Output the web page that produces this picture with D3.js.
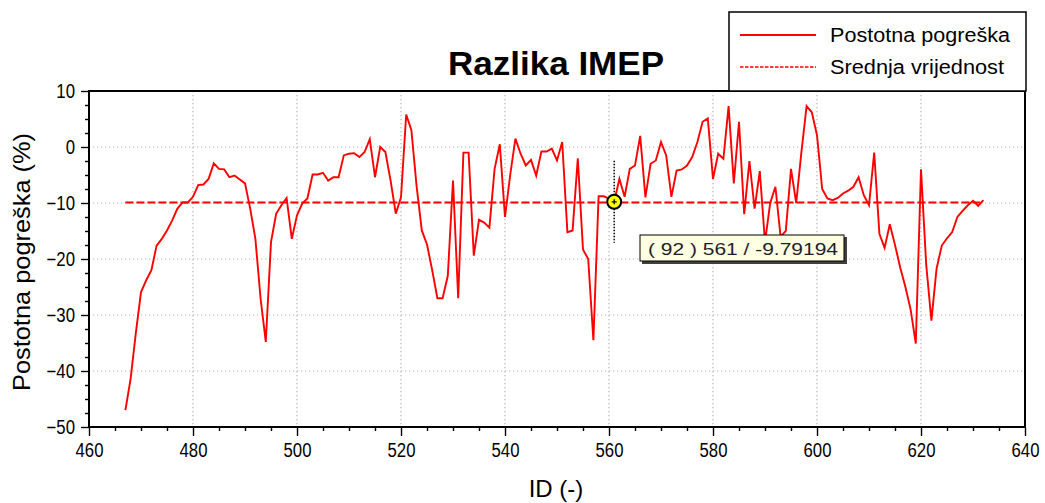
<!DOCTYPE html>
<html>
<head>
<meta charset="utf-8">
<script src="https://cdn.jsdelivr.net/npm/d3@7"></script>
<style>
  html, body { margin: 0; padding: 0; background: #ffffff; }
  svg { display: block; font-family: "Liberation Sans", Arial, Helvetica, sans-serif; }
</style>
</head>
<body>
<svg id="chart" width="1045" height="503"></svg>
<script>
// Measurement IDs (x) and percentage error of IMEP (y)
const ids = [
  467, 468, 469, 470, 471, 472, 473, 474, 475, 476, 477, 478, 479, 480, 481, 482, 483, 484, 485, 486,
  487, 488, 489, 490, 491, 492, 493, 494, 495, 496, 497, 498, 499, 500, 501, 502, 503, 504, 505, 506,
  507, 508, 509, 510, 511, 512, 513, 514, 515, 516, 517, 518, 519, 520, 521, 522, 523, 524, 525, 526,
  527, 528, 529, 530, 531, 532, 533, 534, 535, 536, 537, 538, 539, 540, 541, 542, 543, 544, 545, 546,
  547, 548, 549, 550, 551, 552, 553, 554, 555, 556, 557, 558, 559, 560, 561, 562, 563, 564, 565, 566,
  567, 568, 569, 570, 571, 572, 573, 574, 575, 576, 577, 578, 579, 580, 581, 582, 583, 584, 585, 586,
  587, 588, 589, 590, 591, 592, 593, 594, 595, 596, 597, 598, 599, 600, 601, 602, 603, 604, 605, 606,
  607, 608, 609, 610, 611, 612, 613, 614, 615, 616, 617, 618, 619, 620, 621, 622, 623, 624, 625, 626,
  627, 628, 629, 630, 631, 632
];
const errorPct = [
  -47.0, -41.4, -33.3, -25.9, -23.8, -22.0, -17.6, -16.4, -14.9, -13.1, -11.0, -9.9, -9.9, -8.9, -6.8, -6.7, -5.7, -2.9, -3.9, -4.0,
  -5.4, -5.1, -5.8, -6.5, -11.0, -16.4, -27.1, -34.8, -17.0, -11.9, -10.4, -9.1, -16.4, -12.2, -10.1, -9.2, -4.9, -4.9, -4.6, -6.0,
  -5.4, -5.4, -1.5, -1.2, -1.1, -1.8, -0.9, 1.4, -5.4, 0.0, -0.9, -6.0, -11.9, -9.0, 5.8, 3.0, -7.0, -14.9, -17.4, -22.0,
  -27.0, -27.0, -23.0, -6.0, -27.0, -1.0, -1.0, -19.4, -13.0, -13.5, -14.4, -3.9, 0.5, -12.5, -5.0, 1.5, -1.2, -3.3, -2.3, -5.1,
  -0.8, -0.8, -0.3, -2.4, 0.9, -15.2, -14.9, -2.0, -18.3, -20.0, -34.5, -8.8, -8.8, -9.2, -9.79194, -5.7, -8.9, -3.9, -3.3, 2.0,
  -9.0, -3.0, -2.4, 0.9, -1.5, -8.9, -4.2, -4.0, -3.3, -1.8, 0.9, 4.5, 5.1, -5.7, -1.2, -2.1, 7.3, -6.5, 4.5, -12.0,
  -2.5, -11.0, -4.3, -17.0, -10.0, -7.1, -16.0, -15.0, -3.9, -10.0, -0.9, 7.3, 6.2, 2.1, -7.5, -9.2, -9.5, -9.1, -8.3, -7.8,
  -7.1, -5.4, -8.6, -10.4, -1.0, -15.5, -18.0, -13.8, -17.5, -21.5, -25.0, -29.0, -35.1, -4.0, -21.0, -31.0, -21.7, -17.6, -16.3, -15.2,
  -12.5, -11.4, -10.4, -9.6, -10.5, -9.5
];
const meanPct = -9.9;

const xMajorTicks = [460, 480, 500, 520, 540, 560, 580, 600, 620, 640];
const yMajorTicks = [10, 0, -10, -20, -30, -40, -50];
const xDomain = [460, 640];
const yDomain = [-50, 10];

const titleText = "Razlika IMEP";
const xTitle = "ID (-)";
const yTitle = "Postotna pogreška (%)";
const legendLabels = ["Postotna pogreška", "Srednja vrijednost"];

// Data cursor readout
const cursorIndex = 92;
const cursorId = 561;

// ---------------------------------------------------------------------------
const svg = d3.select("#chart");
const plot = { left: 89, right: 1025, top: 91, bottom: 427 };

const x = d3.scaleLinear().domain(xDomain).range([plot.left, plot.right]);
const y = d3.scaleLinear().domain(yDomain).range([plot.bottom, plot.top]);

svg.append("rect").attr("width", 1045).attr("height", 503).attr("fill", "#ffffff");

// dotted grid at major ticks
const grid = svg.append("g").attr("stroke", "#b4b4b4").attr("stroke-width", 1.2).attr("stroke-dasharray", "1.2,2.8");
grid.selectAll("line.gx").data(xMajorTicks.filter(v => v > xDomain[0] && v < xDomain[1]))
  .join("line").attr("class", "gx")
  .attr("x1", d => x(d)).attr("x2", d => x(d))
  .attr("y1", plot.top).attr("y2", plot.bottom);
grid.selectAll("line.gy").data(yMajorTicks.filter(v => v > yDomain[0] && v < yDomain[1]))
  .join("line").attr("class", "gy")
  .attr("x1", plot.left).attr("x2", plot.right)
  .attr("y1", d => y(d)).attr("y2", d => y(d));

// minor tick positions
const xMinor = d3.range(xDomain[0], xDomain[1] + 0.001, 5).filter(v => !xMajorTicks.includes(v));
const yMinor = d3.range(yDomain[0], yDomain[1] + 0.001, 2.5).filter(v => !yMajorTicks.includes(v));

const tickFont = 19.5, tickSqueeze = 0.86;

// x axis
const gx = svg.append("g").attr("transform", `translate(0,${plot.bottom})`);
gx.append("g").call(d3.axisBottom(x).tickValues(xMinor).tickSize(4).tickFormat(""))
  .call(g => g.select(".domain").remove());
gx.append("g").call(d3.axisBottom(x).tickValues(xMajorTicks).tickSize(9).tickPadding(7).tickFormat(d3.format("d")))
  .call(g => g.select(".domain").remove());
gx.selectAll("line").attr("stroke", "#000").attr("stroke-width", 1.4);
gx.selectAll("text")
  .attr("font-size", tickFont).attr("fill", "#000")
  .attr("font-family", "Liberation Sans, Arial, sans-serif")
  .attr("transform", `scale(${tickSqueeze},1)`);

// y axis
const gy = svg.append("g").attr("transform", `translate(${plot.left},0)`);
gy.append("g").call(d3.axisLeft(y).tickValues(yMinor).tickSize(4).tickFormat(""))
  .call(g => g.select(".domain").remove());
gy.append("g").call(d3.axisLeft(y).tickValues(yMajorTicks).tickSize(8).tickPadding(6).tickFormat(d3.format("d")))
  .call(g => g.select(".domain").remove());
gy.selectAll("line").attr("stroke", "#000").attr("stroke-width", 1.4);
gy.selectAll("text")
  .attr("font-size", tickFont).attr("fill", "#000")
  .attr("font-family", "Liberation Sans, Arial, sans-serif")
  .attr("x", -14 / tickSqueeze)
  .attr("transform", `scale(${tickSqueeze},1)`);

// data series
const series = ids.map((id, i) => ({ id, v: errorPct[i] }));
svg.append("clipPath").attr("id", "plotClip").append("rect")
  .attr("x", plot.left).attr("y", plot.top)
  .attr("width", plot.right - plot.left).attr("height", plot.bottom - plot.top);

svg.append("line")
  .attr("clip-path", "url(#plotClip)")
  .attr("x1", x(ids[0])).attr("x2", x(ids[ids.length - 1]))
  .attr("y1", y(meanPct)).attr("y2", y(meanPct))
  .attr("stroke", "#ff0000").attr("stroke-width", 2)
  .attr("stroke-dasharray", "8,3");

svg.append("path")
  .datum(series)
  .attr("clip-path", "url(#plotClip)")
  .attr("fill", "none")
  .attr("stroke", "#ff0000")
  .attr("stroke-width", 1.9)
  .attr("stroke-linejoin", "miter")
  .attr("d", d3.line().x(d => x(d.id)).y(d => y(d.v)));

// plot frame
svg.append("rect")
  .attr("x", plot.left).attr("y", plot.top)
  .attr("width", plot.right - plot.left).attr("height", plot.bottom - plot.top)
  .attr("fill", "none").attr("stroke", "#000").attr("stroke-width", 2);

// title
svg.append("text")
  .attr("x", 556).attr("y", 75)
  .attr("text-anchor", "middle")
  .attr("font-size", 33).attr("font-weight", "bold").attr("fill", "#000")
  .attr("textLength", 216).attr("lengthAdjust", "spacingAndGlyphs")
  .text(titleText);

// axis titles
svg.append("text")
  .attr("x", 556).attr("y", 497)
  .attr("text-anchor", "middle")
  .attr("font-size", 24).attr("fill", "#000")
  .text(xTitle);

svg.append("text")
  .attr("transform", "translate(30,262) rotate(-90)")
  .attr("text-anchor", "middle")
  .attr("font-size", 24).attr("fill", "#000")
  .attr("textLength", 258).attr("lengthAdjust", "spacingAndGlyphs")
  .text(yTitle);

// legend
const legend = svg.append("g");
legend.append("rect")
  .attr("x", 729).attr("y", 12).attr("width", 297).attr("height", 79)
  .attr("fill", "#ffffff").attr("stroke", "#000").attr("stroke-width", 1.5);
const rows = [
  { label: legendLabels[0], y: 35, dash: null, width: 2 },
  { label: legendLabels[1], y: 67, dash: "3.5,1.5", width: 1.5 }
];
const legendWidths = [180, 174];
rows.forEach((r, i) => {
  legend.append("line")
    .attr("x1", 740).attr("x2", 816).attr("y1", r.y).attr("y2", r.y)
    .attr("stroke", "#ff0000").attr("stroke-width", r.width)
    .attr("stroke-dasharray", r.dash);
  legend.append("text")
    .attr("x", 830).attr("y", r.y + 7)
    .attr("font-size", 20).attr("fill", "#000")
    .attr("textLength", legendWidths[i]).attr("lengthAdjust", "spacingAndGlyphs")
    .text(r.label);
});

// data cursor: marker, dotted guide and readout box
const cursorValue = errorPct[ids.indexOf(cursorId)];
const cx = x(cursorId), cy = y(cursorValue);
svg.append("line")
  .attr("x1", cx).attr("x2", cx).attr("y1", cy - 41).attr("y2", cy + 41)
  .attr("stroke", "#000").attr("stroke-width", 1.5).attr("stroke-dasharray", "1.5,1.5");
svg.append("circle")
  .attr("cx", cx).attr("cy", cy).attr("r", 7)
  .attr("fill", "#ffff00").attr("stroke", "#000").attr("stroke-width", 2);
svg.append("path")
  .attr("d", `M${cx - 2.5},${cy}H${cx + 2.5}M${cx},${cy - 2.5}V${cy + 2.5}`)
  .attr("stroke", "#000").attr("stroke-width", 1.3);

const tip = svg.append("g").attr("transform", "translate(640,235)");
tip.append("rect").attr("x", 2).attr("y", 2).attr("width", 205).attr("height", 27).attr("fill", "#404040");
tip.append("rect").attr("x", 0).attr("y", 0).attr("width", 204).attr("height", 26)
  .attr("fill", "#ffffe1").attr("stroke", "#000").attr("stroke-width", 1);
tip.append("text")
  .attr("x", 8).attr("y", 19.5)
  .attr("font-size", 17).attr("fill", "#1e1e2a")
  .attr("textLength", 190).attr("lengthAdjust", "spacingAndGlyphs")
  .text(`( ${cursorIndex} ) ${cursorId} / ${cursorValue}`);
</script>
</body>
</html>
